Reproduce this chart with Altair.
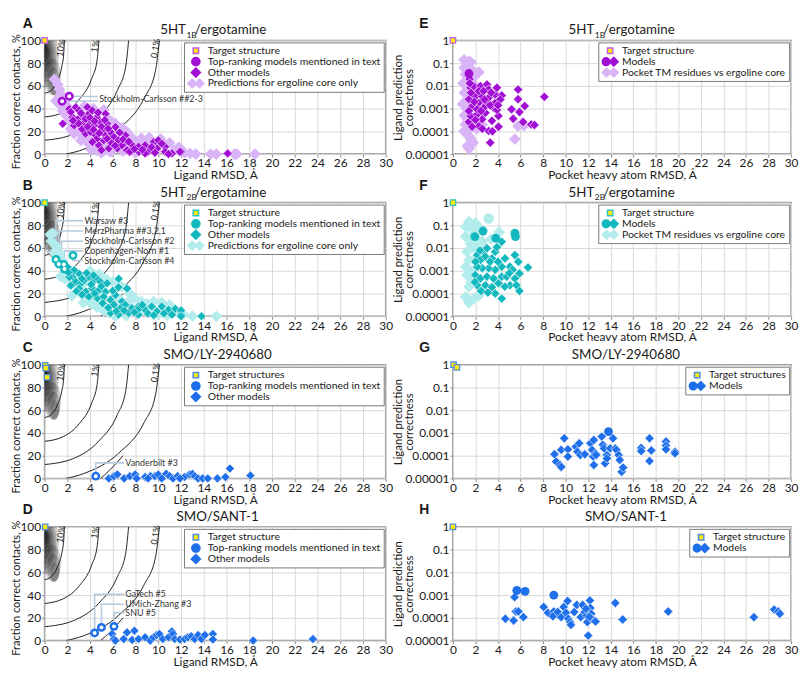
import altair as alt
import pandas as pd

FONT = "Lato"
BOLD_FONT = "Liberation Sans"
W, W2, H = 345, 342, 115

PURPLE, LAVENDER, PURPLE_EDGE = "#a20fd4", "#d9b4f6", "#c55ce8"
TEAL, CYAN, TEAL_EDGE = "#12b8bd", "#b3ecec", "#2fc3bf"
BLUE, BLUE_EDGE = "#1e6fe9", "#4f8fe0"
YELLOW = "#ffea00"
LEADER = "#b5cadf"
INK = "#1a1a1a"

# legend symbols (unit box, drawn with symbolSize 272 -> 16.5 px wide)
SQ = "M-0.33,-0.33L0.33,-0.33L0.33,0.33L-0.33,0.33Z"
CIRCLE = "M-0.5,0A0.5,0.5 0 1,1 0.5,0A0.5,0.5 0 1,1 -0.5,0Z"
DIAMOND = "M0,-0.56L0.56,0L0,0.56L-0.56,0Z"
DBL_DIAMOND = "M-0.98,0L-0.45,-0.53L0.08,0L-0.45,0.53Z M-0.08,0L0.45,-0.53L0.98,0L0.45,0.53Z"
CIRC_DIAMOND = "M-0.97,0A0.47,0.47 0 1,1 -0.03,0A0.47,0.47 0 1,1 -0.97,0Z M-0.08,0L0.45,-0.53L0.98,0L0.45,0.53Z"
ELLIPSE = "M0,-1A0.45,1 0 1,1 0,1A0.45,1 0 1,1 0,-1Z"

# ---------------- contour curves of the left panels ----------------
C1_X = [0.0, 0.6, 1.12, 1.51, 1.68, 1.74]
C1_Y = [53.5, 56.3, 64.4, 76.8, 88.0, 100.0]
C2_X = [0.0, 1.63, 3.07, 4.14, 4.62, 4.78]
C2_Y = [32.6, 36.7, 48.4, 66.3, 82.6, 100.0]
C3_X = [0.0, 2.53, 4.75, 6.4, 7.14, 7.39]
C3_Y = [12.2, 17.5, 32.7, 56.1, 77.3, 100.0]
C4_X = [1.89, 3.45, 6.49, 8.75, 9.76, 10.1]
C4_Y = [0.0, 4.3, 22.0, 49.1, 73.7, 100.0]
C5_X = [4.93, 5.8, 6.9]
C5_Y = [0.0, 8.0, 20.0]
CONTOUR_TEXT = ["10%", "1%", "0.1%"]
CONTOUR_TX = [1.45, 4.45, 9.75]
CONTOUR_TY = [93.5, 95.0, 93.0]

BLOB_X = [0.0, 0.0, 0.0, 0.0, 0.0, 0.05, 0.1, 0.05, 0.7, 0.8, 0.9]
BLOB_Y = [86, 86, 86, 87, 88, 89, 90, 93, 68, 64, 60]
BLOB_S = [4000, 2800, 1900, 1200, 700, 350, 150, 60, 1400, 800, 400]

# ---------------- panel A ----------------
A_TARGET = [(0.0, 100.0)]
A_TOP = [(1.54, 46.5), (2.17, 50.9)]
A_OTHER = [(1.6,26.7),(2.17,39.7),(2.75,41.2),(2.46,32.5),(3.04,38.3),(2.6,25.2),(3.33,33.9),(3.77,41.2),(3.9,35.4),(4.2,38.3),(4.6,32.5),(5.36,35.4),(3.48,28.1),(3.9,28.1),(4.35,25.2),(4.9,28.1),(5.5,26.7),(3.6,18.0),(4.06,19.4),(4.5,16.5),(5.07,20.9),(5.36,16.5),(5.8,19.4),(6.23,23.8),(6.1,15.0),(4.78,7.8),(5.2,12.2),(6.5,12.2),(7.1,16.5),(7.0,9.3),(7.7,7.8),(8.3,6.4),(8.84,7.8),(9.6,10.7),(10.0,9.3),(10.6,6.4),(8.3,2.0),(9.1,2.0),(9.9,5.0),(10.6,2.0),(11.2,0.6),(12.0,2.0),(16.1,0.6),(5.65,5.0),(6.4,5.0),(7.25,3.5),(6.8,7.8),(4.6,13.6),(4.2,10.7),(10.0,12.2),(10.3,9.3),(10.9,0.0),(11.9,2.0),(7.5,2.0),(8.26,6.4),(8.84,0.6),(2.9,30.5),(3.2,36.0),(3.6,31.0),(4.0,32.0),(4.4,29.0),(4.7,36.5),(5.0,24.0),(5.3,30.0),(5.6,22.5),(3.3,22.0),(3.8,24.0),(4.3,21.5),(4.8,18.5),(5.5,13.5),(5.9,9.5),(6.6,19.0),(6.9,13.0),(7.4,11.0),(7.9,4.5),(8.6,4.0),(9.4,6.0),(9.7,1.2),(6.2,7.5),(5.0,3.5),(3.0,27.0),(2.3,37.0),(2.5,29.5)]
A_CORE = [(0.87,65.8),(1.16,61.4),(1.3,57.0),(1.45,52.8),(1.0,47.0),(1.74,41.0),(1.9,34.0),(2.17,29.6),(2.75,25.0),(3.04,19.4),(3.6,13.6),(4.5,7.8),(4.6,3.5),(5.4,5.0),(6.5,7.8),(7.4,16.5),(8.3,7.8),(9.1,12.0),(10.0,10.7),(10.6,7.8),(11.4,3.5),(12.3,1.2),(12.8,0.6),(13.3,0.0),(14.6,0.0),(15.1,0.0),(16.7,0.0),(16.9,0.0),(18.5,0.0),(1.3,44.0),(1.6,38.0),(2.0,42.0),(2.3,22.0),(2.6,18.0),(3.2,12.0),(3.9,9.0),(4.1,4.0),(5.0,1.0),(5.8,2.0),(6.0,10.0),(6.9,2.5),(7.8,12.5),(8.6,11.5),(8.0,1.0),(9.4,9.0),(9.8,3.0),(11.0,10.0),(11.8,6.0),(12.1,3.0),(3.5,42.0),(4.3,40.0),(5.2,39.0),(5.6,31.0),(6.2,27.0),(6.8,23.0),(7.2,20.0),(7.7,14.0),(8.5,14.0),(9.2,14.5),(10.2,13.5),(4.8,27.0),(3.8,15.0)]
A_LEADERS = [[(1.54, 46.5), (4.7, 47.0)], [(2.17, 50.9), (4.7, 50.7)]]
A_NOTES = [("Stockholm-Carlsson ##2-3", 4.8, 48.8)]

# ---------------- panel B ----------------
B_TARGET = [(0.0, 100.0)]
B_TOP = [(1.0,50.0),(1.25,46.0),(1.7,45.5),(1.75,41.5),(2.5,53.5)]
B_OTHER = [(2.03,43.1),(2.46,34.5),(3.04,37.4),(2.17,34.5),(2.75,30.2),(3.19,28.7),(3.48,31.6),(3.9,34.5),(4.35,31.6),(4.64,33.0),(4.9,30.2),(6.52,33.0),(7.25,24.4),(3.04,24.4),(3.62,21.6),(4.2,24.4),(4.78,23.0),(5.36,21.6),(3.9,17.2),(4.64,15.8),(5.2,17.2),(5.8,14.4),(6.23,18.7),(6.8,12.9),(6.1,10.1),(6.67,7.2),(7.1,10.1),(7.68,7.2),(8.26,8.6),(8.84,5.7),(9.42,8.6),(9.86,4.3),(10.3,8.6),(10.9,5.7),(11.2,1.4),(5.8,2.9),(6.5,1.4),(7.4,2.9),(8.26,1.4),(9.1,2.3),(12.0,1.4),(13.8,0.0),(11.5,6.6),(12.0,5.2),(12.0,0.0),(8.26,6.4),(2.6,40.5),(2.3,27.0),(2.8,22.0),(3.3,19.0),(4.1,28.0),(4.4,20.0),(5.0,26.5),(5.5,29.0),(5.1,11.5),(5.6,7.5),(6.3,4.5),(7.0,5.0),(7.9,3.5),(8.6,10.0),(9.6,0.8),(10.5,2.5),(4.3,36.0),(3.7,38.0),(6.0,22.5),(6.5,25.5),(3.3,33.0),(2.1,38.5)]
B_CORE = [(0.5,72.0),(0.72,73.0),(0.6,66.0),(0.9,63.0),(1.1,60.0),(0.85,56.0),(1.3,55.0),(1.5,50.0),(1.6,45.0),(2.0,40.0),(2.2,36.0),(1.8,33.0),(2.5,30.0),(2.9,26.0),(3.2,20.0),(3.6,16.0),(4.1,11.0),(4.6,8.0),(5.2,5.0),(5.7,3.0),(6.2,0.0),(7.2,0.5),(8.3,3.0),(9.0,11.0),(9.6,13.0),(10.3,12.0),(11.0,10.0),(11.6,4.0),(12.2,2.0),(13.0,0.0),(15.1,0.0),(4.0,40.0),(4.8,37.0),(5.4,33.0),(6.0,30.0),(6.8,26.0),(7.5,20.0),(7.9,16.0),(8.5,13.0),(9.2,7.5),(10.0,2.0),(10.8,1.0),(3.0,34.0),(3.5,29.0),(4.5,14.0),(5.0,19.0),(5.8,11.0),(6.6,15.0),(7.3,12.0),(1.4,35.0),(2.4,18.0),(3.4,12.0)]
B_LEADERS = [[(1.0, 50.0), (1.0, 84.0), (3.4, 84.0)],
             [(1.25, 46.0), (1.25, 75.0), (3.4, 75.0)],
             [(1.5, 45.5), (1.5, 66.0), (3.4, 66.0)],
             [(1.75, 41.5), (1.75, 57.5), (3.4, 57.5)],
             [(2.5, 53.5), (2.5, 49.0), (3.4, 49.0)]]
B_NOTES = [("Warsaw #3", 3.5, 84.0), ("MerzPharma ##3,2,1", 3.5, 75.0),
           ("Stockholm-Carlsson #2", 3.5, 66.0), ("Copenhagen-Norn #1", 3.5, 57.5),
           ("Stockholm-Carlsson #4", 3.5, 49.0)]

# ---------------- panel C ----------------
C_TARGET = [(0.05, 99.5), (0.1, 97.0), (0.22, 89.0)]
C_TOP = [(4.5, 2.0)]
C_OTHER = [(5.65,0.0),(6.1,2.0),(6.4,3.5),(7.0,0.0),(7.5,2.0),(7.97,3.5),(8.1,0.0),(8.84,1.2),(9.3,2.0),(9.7,2.0),(10.0,3.5),(10.7,4.1),(11.0,2.0),(11.3,0.0),(11.7,2.0),(12.3,1.2),(12.75,3.5),(13.0,4.1),(13.2,2.0),(13.5,0.0),(13.9,0.0),(14.35,0.0),(15.2,0.0),(15.9,1.2),(16.3,8.7),(18.1,2.6),(9.1,0.0),(10.3,0.0),(11.9,0.0)]
C_LEADERS = [[(4.5, 2.0), (4.5, 13.7), (7.0, 13.7)]]
C_NOTES = [("Vanderbilt #3", 7.1, 13.7)]

# ---------------- panel D ----------------
D_TARGET = [(0.05, 100.0)]
D_TOP = [(4.4, 6.7), (5.0, 11.6), (6.1, 12.5)]
D_OTHER = [(5.94,5.8),(6.1,1.4),(6.23,0.0),(6.96,1.4),(7.25,7.2),(7.7,0.6),(7.9,8.7),(8.26,1.4),(8.84,2.9),(9.3,0.0),(9.57,2.9),(9.86,4.9),(10.1,5.8),(10.4,1.4),(10.9,2.9),(11.2,8.1),(11.3,5.8),(11.45,1.4),(11.9,0.9),(12.3,1.4),(12.6,2.9),(12.9,3.8),(13.2,1.4),(13.5,4.9),(13.8,1.4),(14.1,4.9),(14.8,5.8),(14.8,0.9),(18.35,0.0),(23.6,1.4)]
D_LEADERS = [[(4.4, 6.7), (4.4, 40.6), (7.0, 40.6)],
             [(5.0, 11.6), (5.0, 31.9), (7.0, 31.9)],
             [(6.1, 12.5), (6.1, 24.6), (7.0, 24.6)]]
D_NOTES = [("GaTech #5", 7.1, 40.6), ("UMich-Zhang #3", 7.1, 31.9), ("SNU #5", 7.1, 24.6)]

# ---------------- panel E ----------------
E_TARGET = [(0.0, 1.0)]
E_TOP = [(1.42, 0.035)]
E_OTHER = [(1.48,2.0e-2),(1.57,8.3e-3),(1.86,9.8e-3),(2.44,9.8e-3),(3.02,1.15e-2),(3.17,6.9e-3),(3.75,4.2e-3),(4.33,3.8e-3),(5.78,6.9e-3),(5.78,2.6e-3),(6.37,1.3e-3),(8.11,3.3e-3),(5.2,9.3e-4),(5.35,3.6e-4),(5.9,7.1e-4),(6.22,2.6e-4),(6.95,2.0e-4),(7.24,1.9e-4),(4.04,4.8e-4),(4.04,1.6e-4),(3.31,3.2e-5),(3.17,1.05e-4),(2.3,1.7e-4),(1.42,2.6e-4),(1.57,4.8e-4),(2.15,5.6e-4),(2.59,3.4e-4),(2.88,6.6e-4),(3.46,2.9e-4),(3.6,1.1e-3),(3.75,1.8e-3),(3.02,1.8e-3),(2.3,1.8e-3),(1.72,1.3e-3),(1.42,2.6e-3),(2.0,3.5e-3),(2.59,3.5e-3),(3.17,3.0e-3),(2.73,1.1e-3),(2.15,9.3e-4),(1.42,7.9e-4),(3.9,8.3e-3),(2.3,5.9e-3),(2.73,5.9e-3),(1.6,5.0e-3),(1.9,2.0e-3),(2.5,7.9e-4),(3.3,1.4e-3),(3.9,8.9e-4),(2.0,3.2e-4),(1.7,1.6e-4),(2.6,1.3e-4),(3.5,1.0e-4),(1.5,1.3e-2),(4.2,2.5e-3),(3.4,5.0e-3),(2.8,2.5e-3),(4.0,1.4e-3)]
E_CORE = [(0.99,0.14),(1.42,0.12),(0.99,0.062),(1.1,0.032),(0.9,0.013),(1.0,5.0e-3),(0.85,1.6e-3),(1.0,5.0e-4),(1.1,2.0e-4),(0.99,1.0e-4),(1.42,6.3e-5),(1.28,2.3e-5),(1.42,1.7e-5),(1.8,3.2e-5),(2.3,0.04),(5.5,4.6e-5),(5.78,1.7e-4),(1.3,0.079),(1.2,0.01),(1.3,2.5e-3),(1.25,1.0e-3),(1.3,3.2e-4),(1.2,7.9e-5),(1.6,4.5e-5),(2.1,1.3e-4),(2.6,2.0e-4),(6.3,1.8e-4),(1.6,0.11),(1.7,0.05),(1.9,0.025),(2.0,0.01),(1.5,1.3e-4)]

# ---------------- panel F ----------------
F_TARGET = [(0.0, 1.0)]
F_TOP = [(1.95,0.032),(2.67,0.056),(3.8,0.027),(5.5,0.045),(5.55,0.032)]
F_TOP_CORE = [(3.17, 0.2)]
F_OTHER = [(2.73,6.9e-3),(3.02,9.8e-3),(3.75,6.9e-3),(4.33,1.9e-2),(2.15,4.9e-3),(2.44,3.0e-3),(2.88,4.2e-3),(3.46,3.5e-3),(4.62,3.5e-3),(5.5,4.9e-3),(6.66,1.4e-3),(5.9,7.6e-4),(5.5,4.6e-4),(5.06,1.5e-3),(4.33,1.5e-3),(3.75,1.1e-3),(3.17,1.3e-3),(2.6,1.3e-3),(2.15,1.5e-3),(1.98,6.5e-4),(2.44,4.6e-4),(3.02,5.5e-4),(3.6,4.6e-4),(4.33,5.5e-4),(4.77,5.5e-4),(5.06,2.3e-4),(5.64,2.3e-4),(2.88,2.3e-4),(3.46,1.9e-4),(4.04,2.8e-4),(2.15,2.3e-4),(3.75,1.0e-4),(4.33,6.0e-5),(2.4,7.9e-3),(3.3,2.5e-3),(4.0,2.5e-3),(5.8,2.5e-3),(5.3,1.1e-3),(2.5,1.3e-4),(3.1,1.1e-4),(4.6,2.0e-4),(2.0,2.5e-3),(3.9,1.1e-2),(5.0,7.9e-4),(1.95,3.2e-4),(5.9,1.3e-4)]
F_CORE = [(1.42,0.145),(1.13,0.087),(1.7,0.063),(1.13,0.032),(1.56,0.016),(1.25,6.9e-3),(1.42,3.0e-3),(1.13,1.5e-3),(1.25,6.5e-4),(1.42,2.0e-4),(1.13,7.1e-5),(1.42,3.9e-5),(2.0,0.126),(2.3,0.079),(1.8,0.032),(1.9,0.01),(2.2,0.02),(1.7,1.0e-3),(1.6,3.2e-4),(2.3,7.9e-5),(1.9,6.3e-5),(1.6,0.1),(2.6,0.02),(3.4,0.025),(4.1,0.05),(2.1,4.0e-3),(2.9,0.01)]

# ---------------- panel G ----------------
G_TARGET = [(0.06, 1.0), (0.35, 0.76)]
G_TOP = [(13.8, 1.15e-3)]
G_OTHER = [(9.01,1.15e-4),(9.16,5.5e-5),(9.5,3.9e-5),(9.6,3.2e-5),(9.6,1.8e-4),(9.88,5.8e-4),(10.2,1.9e-4),(10.2,9.1e-5),(10.9,2.5e-4),(11.05,1.5e-4),(11.2,3.5e-4),(11.3,1.07e-4),(11.7,1.15e-4),(12.2,3.5e-4),(12.35,1.8e-4),(12.5,4.9e-4),(12.44,9.1e-5),(12.65,1.26e-4),(12.5,3.9e-5),(12.7,1.07e-4),(13.2,6.9e-4),(13.3,3.0e-4),(13.4,2.1e-4),(13.5,4.6e-5),(13.66,1.07e-4),(13.66,7.6e-5),(13.95,2.1e-4),(14.2,5.8e-4),(14.4,2.1e-4),(14.5,1.8e-4),(14.7,1.07e-4),(14.8,6.5e-5),(14.97,1.95e-5),(15.1,3.0e-5),(16.7,2.2e-4),(16.7,1.6e-4),(17.44,5.8e-4),(17.6,1.7e-4),(17.44,5.8e-5),(18.9,4.2e-4),(18.9,2.8e-4),(18.9,1.9e-4),(19.7,1.5e-4),(19.7,1.26e-4)]

# ---------------- panel H ----------------
H_TARGET = [(0.0, 1.0)]
H_TOP = [(5.67,1.6e-3),(6.4,1.45e-3),(8.95,1.0e-3)]
H_OTHER = [(4.65,9.1e-5),(5.38,7.6e-5),(5.47,8.1e-4),(5.58,1.9e-4),(5.81,1.9e-4),(6.25,1.07e-4),(8.05,3.0e-4),(8.43,1.66e-4),(8.95,1.9e-4),(8.87,1.17e-4),(9.3,1.8e-4),(9.6,1.07e-4),(9.83,3.0e-4),(10.03,1.66e-4),(10.17,5.5e-4),(10.23,9.1e-5),(10.4,6.5e-5),(10.47,4.9e-5),(10.76,1.8e-4),(10.99,3.7e-4),(11.34,1.07e-4),(11.5,3.7e-4),(11.69,1.8e-4),(11.86,1.26e-4),(11.92,6.5e-5),(12.0,1.66e-5),(12.15,5.8e-4),(12.2,2.7e-4),(12.27,1.5e-4),(12.35,9.1e-5),(12.65,6.9e-5),(14.4,4.5e-4),(15.06,8.5e-5),(19.1,1.9e-4),(26.7,1.07e-4),(28.5,2.3e-4),(28.87,1.9e-4),(29.0,1.5e-4),(11.8,2.5e-4),(12.1,1.1e-4)]

LEG_LEFT = ["Target structure", "Top-ranking models mentioned in text", "Other models",
            "Predictions for ergoline core only"]
LEG_C = ["Target structures", "Top-ranking models mentioned in text", "Other models"]
LEG_D = ["Target structure", "Top-ranking models mentioned in text", "Other models"]
LEG_RIGHT = ["Target structure", "Models", "Pocket TM residues vs ergoline core"]
LEG_G = ["Target structures", "Models"]
LEG_H = ["Target structure", "Models"]

T_1B = ("5HT", "1B", "/ergotamine")
T_2B = ("5HT", "2B", "/ergotamine")
T_LY = "SMO/LY-2940680"
T_SANT = "SMO/SANT-1"


# ======================================================================
def frame(points):
    return pd.DataFrame(points, columns=["x", "y"])


def x_enc(field, title):
    return alt.X(f"{field}:Q", scale=alt.Scale(domain=[0, 30], nice=False, zero=False),
                 axis=alt.Axis(values=list(range(0, 31, 2)), title=title, labelFlush=False,
                               labelOverlap=False))


def y_enc(kind):
    if kind == "left":
        return alt.Y("y:Q", scale=alt.Scale(domain=[0, 100], nice=False, zero=False),
                     axis=alt.Axis(values=[0, 20, 40, 60, 80, 100], title="Fraction correct contacts, %",
                                   titleX=-23, titleY=H / 2 + 4, titleAngle=270, titleBaseline="bottom",
                                   titleAlign="center", titleFontSize=11.2, labelFlush=False,
                                   labelOverlap=False))
    return alt.Y("y:Q", scale=alt.Scale(type="log", domain=[1e-5, 1], nice=False),
                 axis=alt.Axis(values=[1e-5, 1e-4, 1e-3, 1e-2, 1e-1, 1],
                               labelExpr="format(datum.value, '.5~f')",
                               title=["Ligand prediction", "correctness"], titleX=-50, titleY=H / 2,
                               titleAngle=270, titleBaseline="bottom", titleAlign="center",
                               titleLineHeight=11, titleFontSize=11.5, labelFlush=False,
                               labelOverlap=False))


def scatter(points, X, Y, shape, size, fill, stroke, sw):
    return alt.Chart(frame(points)).mark_point(
        shape=shape, size=size, filled=True, fill=fill, stroke=stroke, strokeWidth=sw, opacity=1
    ).encode(x=X, y=Y)


def text_px(text, x, y, size, align="left", weight="normal", font=FONT):
    return alt.Chart(pd.DataFrame({"t": [text]})).mark_text(
        align=align, baseline="alphabetic", fontSize=size, fontWeight=weight, font=font, color=INK
    ).encode(x=alt.value(x), y=alt.value(y), text="t:N")


def title_layers(title, cx=175):
    if isinstance(title, tuple):
        a, sub, b = title
        return [text_px(a, cx - 32, -6, 13.5, align="right"),
                text_px(sub, cx - 31.5, -2.5, 8.5),
                text_px(b, cx - 23, -6, 13.5)]
    return [text_px(title, cx, -6, 13.5, align="center")]


def legend_layer(names, fills, strokes, shapes):
    leg = alt.Legend(title=None)
    n = len(names)
    sc = lambda r: alt.Scale(domain=names, range=r[:n])
    return alt.Chart(pd.DataFrame({"s": names})).mark_point(
        filled=True, clip=True, strokeWidth=1.2, opacity=1
    ).encode(
        x=alt.value(-999), y=alt.value(-999),
        fill=alt.Fill("s:N", scale=sc(fills), legend=leg),
        stroke=alt.Stroke("s:N", scale=sc(strokes), legend=leg),
        shape=alt.Shape("s:N", scale=sc(shapes), legend=leg),
    )


def panel(kind, letter, title, pal, names, target, top, other, core=None, top_core=None,
          leaders=None, notes=None):
    color, light, edge = pal
    left = kind == "left"
    X = x_enc("x", "Ligand RMSD, Å" if left else "Pocket heavy atom RMSD, Å")
    Y = y_enc(kind)
    layers = []
    if left:
        blob = pd.DataFrame({"x": BLOB_X, "y": BLOB_Y, "s": BLOB_S})
        layers.append(alt.Chart(blob).mark_point(
            shape=ELLIPSE, filled=True, fill="#000000", strokeWidth=0, opacity=0.2, clip=True
        ).encode(x=X, y=Y, size=alt.Size("s:Q", scale=None, legend=None)))
        rows = []
        for cid, (xs, ys) in enumerate([(C1_X, C1_Y), (C2_X, C2_Y), (C3_X, C3_Y), (C4_X, C4_Y), (C5_X, C5_Y)]):
            rows += [{"c": cid, "x": a, "y": b} for a, b in zip(xs, ys)]
        layers.append(alt.Chart(pd.DataFrame(rows)).mark_line(
            color="#222222", strokeWidth=1, clip=True, interpolate="monotone"
        ).encode(x=X, y=Y, detail="c:N"))
        lab = pd.DataFrame({"x": CONTOUR_TX, "y": CONTOUR_TY, "t": CONTOUR_TEXT})
        layers.append(alt.Chart(lab).mark_text(
            angle=280, fontSize=9, font=FONT, color="#222222"
        ).encode(x=X, y=Y, text="t:N"))
    if leaders:
        rows = []
        for i, line in enumerate(leaders):
            rows += [{"id": i, "o": j, "x": a, "y": b} for j, (a, b) in enumerate(line)]
        layers.append(alt.Chart(pd.DataFrame(rows)).mark_line(color=LEADER, strokeWidth=1.6).encode(
            x=X, y=Y, detail="id:N", order="o:Q"))
    if core:
        layers.append(scatter(core, X, Y, "diamond", 140, light, light, 0))
    if top_core:
        layers.append(scatter(top_core, X, Y, "circle", 110, light, light, 0))
    layers.append(scatter(other, X, Y, "diamond", 85 if left else 90, color, "white", 0.6))
    if top:
        layers.append(scatter(top, X, Y, "circle", 80, color, color, 0))
        if left:
            layers.append(scatter(top, X, Y, "circle", 16, "white", "white", 0))
    if notes:
        nd = pd.DataFrame(notes, columns=["t", "x", "y"])
        layers.append(alt.Chart(nd).mark_text(
            align="left", baseline="middle", fontSize=9, font=FONT, color="#333333"
        ).encode(x=X, y=Y, text="t:N"))
    layers.append(scatter(target, X, Y, "square", 30, YELLOW, edge, 1.3))
    if left:
        layers.append(legend_layer(names, [YELLOW, color, color, light], [edge, color, color, light],
                                   [SQ, CIRCLE, DIAMOND, DBL_DIAMOND]))
    else:
        layers.append(legend_layer(names, [YELLOW, color, light], [edge, color, light],
                                   [SQ, CIRC_DIAMOND, DBL_DIAMOND]))
    layers.append(text_px(letter, -22 if left else -34, -13, 14, weight="bold", font=BOLD_FONT))
    layers += title_layers(title)
    return alt.layer(*layers).properties(width=W if left else W2, height=H)


P_PURPLE = (PURPLE, LAVENDER, PURPLE_EDGE)
P_TEAL = (TEAL, CYAN, TEAL_EDGE)
P_BLUE = (BLUE, BLUE, BLUE_EDGE)

pA = panel("left", "A", T_1B, P_PURPLE, LEG_LEFT, A_TARGET, A_TOP, A_OTHER, core=A_CORE,
           leaders=A_LEADERS, notes=A_NOTES)
pB = panel("left", "B", T_2B, P_TEAL, LEG_LEFT, B_TARGET, B_TOP, B_OTHER, core=B_CORE,
           leaders=B_LEADERS, notes=B_NOTES)
pC = panel("left", "C", T_LY, P_BLUE, LEG_C, C_TARGET, C_TOP, C_OTHER, leaders=C_LEADERS, notes=C_NOTES)
pD = panel("left", "D", T_SANT, P_BLUE, LEG_D, D_TARGET, D_TOP, D_OTHER, leaders=D_LEADERS, notes=D_NOTES)
pE = panel("right", "E", T_1B, P_PURPLE, LEG_RIGHT, E_TARGET, E_TOP, E_OTHER, core=E_CORE)
pF = panel("right", "F", T_2B, P_TEAL, LEG_RIGHT, F_TARGET, F_TOP, F_OTHER, core=F_CORE, top_core=F_TOP_CORE)
pG = panel("right", "G", T_LY, P_BLUE, LEG_G, G_TARGET, G_TOP, G_OTHER)
pH = panel("right", "H", T_SANT, P_BLUE, LEG_H, H_TARGET, H_TOP, H_OTHER)

chart = alt.concat(
    pA, pE, pB, pF, pC, pG, pD, pH, columns=2,
    spacing={"row": 49, "column": 68}, bounds="flush",
    padding={"left": 2, "top": 4, "right": 0, "bottom": 0},
).resolve_scale(
    fill="independent", stroke="independent", shape="independent"
).resolve_legend(
    fill="independent", stroke="independent", shape="independent"
).configure_view(
    stroke="#8c8c8c", strokeWidth=1.5
).configure_axis(
    labelFont=FONT, labelFontSize=12, labelColor=INK, titleFont=FONT, titleFontSize=12,
    titleFontWeight="normal", titleColor=INK, gridColor="#d9d9d9", gridWidth=1, domain=False,
    tickColor="#8c8c8c", tickSize=3, labelPadding=1, titlePadding=1,
).configure_legend(
    orient="top-right", offset=2, padding=3, strokeColor="#7a7a7a", fillColor="white",
    labelFont=FONT, labelFontSize=10.5, labelColor=INK, rowPadding=0, labelOffset=3,
    symbolSize=272, labelLimit=400, cornerRadius=0, clipHeight=11,
)

chart.save("out.html", embed_options={"renderer": "svg", "actions": False})
